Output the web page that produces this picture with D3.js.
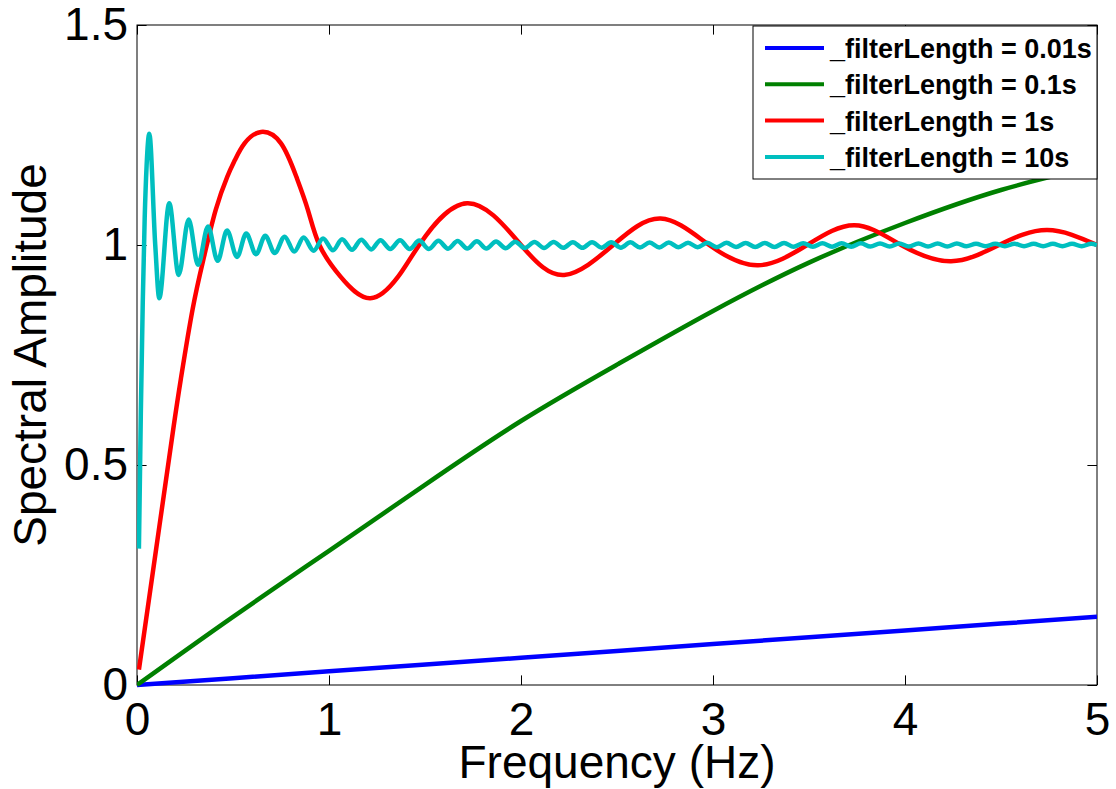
<!DOCTYPE html>
<html>
<head>
<meta charset="utf-8">
<script src="https://cdn.jsdelivr.net/npm/d3@7"></script>
<style>
  body { margin: 0; background: #fff; }
  svg { display: block; background: #fff; font-family: "Liberation Sans", Arial, Helvetica, sans-serif; }
  .axis text { font-size: 46px; fill: #000; }
  .axis line { stroke: #000; stroke-width: 1; }
  .axis-title { font-size: 46px; fill: #000; }
  .legend-text { font-size: 27px; font-weight: bold; fill: #000; }
</style>
</head>
<body>
<svg id="chart"></svg>
<script>
const chartWidth = 1116;
const chartHeight = 789;

// plot box
const plotLeft = 137;
const plotRight = 1097;
const plotTop = 25;
const plotBottom = 685;

const xTicks = [0, 1, 2, 3, 4, 5];
const yTicks = [0, 0.5, 1, 1.5];

const seriesNames = [
  "_filterLength = 0.01s",
  "_filterLength = 0.1s",
  "_filterLength = 1s",
  "_filterLength = 10s",
];
const seriesColors = ["#0000ff", "#008000", "#ff0000", "#00bfbf"];

// _filterLength = 0.01s
const blueFreq = [0, 1, 2, 3, 4, 5];
const blueAmp = [0, 0.031, 0.062, 0.093, 0.124, 0.155];

// _filterLength = 0.1s
const greenFreq = [0, 0.5, 1, 1.5, 2, 2.5, 3, 3.5, 4, 4.5, 5];
const greenAmp = [0, 0.155, 0.305, 0.455, 0.6, 0.728, 0.85, 0.96, 1.05, 1.125, 1.18];

// _filterLength = 1s
const redFreq = [
  0.01, 0.1, 0.19, 0.23, 0.29, 0.35, 0.41, 0.47, 0.51, 0.56, 0.646, 0.75,
  0.83, 0.89, 0.95, 1.06, 1.215, 1.36, 1.47, 1.72, 2.0, 2.225, 2.48, 2.727,
  2.98, 3.235, 3.49, 3.737, 3.98, 4.24, 4.49, 4.74, 5.0,
];
const redAmp = [
  0.035, 0.31, 0.585, 0.7, 0.855, 0.975, 1.08, 1.155, 1.193, 1.231, 1.257, 1.231,
  1.155, 1.08, 1.0, 0.928, 0.879, 0.928, 1.0, 1.095, 1.0, 0.932, 1.0, 1.06,
  1.0, 0.954, 1.0, 1.045, 1.0, 0.963, 1.0, 1.034, 1.0,
];

// _filterLength = 10s (peaks and troughs)
const cyanFreq = [
  0.01, 0.02, 0.03, 0.04, 0.05, 0.064, 0.095, 0.116, 0.168, 0.217, 0.269, 0.318,
  0.37, 0.42, 0.469, 0.521, 0.569, 0.62, 0.668, 0.717, 0.769, 0.819, 0.868, 0.92,
  0.969, 1.021, 1.068, 1.12, 1.168, 1.22, 1.268, 1.319, 1.37, 1.42, 1.47, 1.52,
  1.57, 1.62, 1.67, 1.72, 1.77, 1.82, 1.87, 1.92, 1.97, 2.02, 2.07, 2.12,
  2.17, 2.22, 2.27, 2.32, 2.37, 2.42, 2.47, 2.52, 2.57, 2.62, 2.67, 2.72,
  2.77, 2.82, 2.87, 2.92, 2.97, 3.02, 3.07, 3.12, 3.17, 3.22, 3.27, 3.32,
  3.37, 3.42, 3.47, 3.52, 3.57, 3.62, 3.67, 3.72, 3.77, 3.82, 3.87, 3.92,
  3.97, 4.02, 4.07, 4.12, 4.17, 4.22, 4.27, 4.32, 4.37, 4.42, 4.47, 4.52,
  4.57, 4.62, 4.67, 4.72, 4.77, 4.82, 4.87, 4.92, 4.97, 5.0,
];
const cyanAmp = [
  0.31, 0.62, 0.87, 1.06, 1.18, 1.253, 1.0, 0.879, 1.095, 0.932, 1.058, 0.955,
  1.042, 0.964, 1.033, 0.973, 1.026, 0.979, 1.021, 0.982, 1.019, 0.985, 1.017, 0.987,
  1.015, 0.988, 1.013, 0.989, 1.012, 0.99, 1.011, 0.991, 1.011, 0.991, 1.01, 0.991,
  1.0095, 0.9915, 1.009, 0.992, 1.0085, 0.992, 1.008, 0.9925, 1.0075, 0.993, 1.007, 0.993,
  1.007, 0.9935, 1.0065, 0.9935, 1.0065, 0.994, 1.006, 0.994, 1.006, 0.9945, 1.0055, 0.9945,
  1.0055, 0.995, 1.005, 0.995, 1.005, 0.995, 1.005, 0.9955, 1.0045, 0.9955, 1.0045, 0.9955,
  1.0045, 0.996, 1.004, 0.996, 1.004, 0.996, 1.004, 0.996, 1.004, 0.9965, 1.0035, 0.9965,
  1.0035, 0.9965, 1.0035, 0.9965, 1.0035, 0.9965, 1.0035, 0.997, 1.003, 0.997, 1.003, 0.997,
  1.003, 0.997, 1.003, 0.997, 1.003, 0.997, 1.003, 0.997, 1.003, 1.0,
];

// smooth curves for the slow series, shape-keeping for the wiggly one
const seriesCurves = [d3.curveNatural, d3.curveNatural, d3.curveNatural, d3.curveMonotoneX];

const series = [
  { freq: blueFreq, amp: blueAmp },
  { freq: greenFreq, amp: greenAmp },
  { freq: redFreq, amp: redAmp },
  { freq: cyanFreq, amp: cyanAmp },
].map((s, i) => ({
  name: seriesNames[i],
  color: seriesColors[i],
  curve: seriesCurves[i],
  points: s.freq.map((f, j) => [f, s.amp[j]]),
}));

const svg = d3.select("#chart").attr("width", chartWidth).attr("height", chartHeight);

const x = d3.scaleLinear().domain([0, 5]).range([plotLeft, plotRight]);
const y = d3.scaleLinear().domain([0, 1.5]).range([plotBottom, plotTop]);

const tickLen = 9.6;
const fmt = d3.format("");

// axes (ticks point inward, all four sides)
svg.append("g")
  .attr("class", "axis")
  .attr("transform", "translate(0," + plotBottom + ")")
  .call(d3.axisBottom(x).tickValues(xTicks).tickFormat(fmt).tickSizeInner(-tickLen).tickSizeOuter(0).tickPadding(17))
  .call((g) => g.select(".domain").remove());

svg.append("g")
  .attr("class", "axis")
  .attr("transform", "translate(" + plotLeft + ",0)")
  .call(d3.axisLeft(y).tickValues(yTicks).tickFormat(fmt).tickSizeInner(-tickLen).tickSizeOuter(0).tickPadding(9))
  .call((g) => g.select(".domain").remove());

svg.append("g")
  .attr("class", "axis")
  .attr("transform", "translate(0," + plotTop + ")")
  .call(d3.axisTop(x).tickValues(xTicks).tickFormat("").tickSizeInner(-tickLen).tickSizeOuter(0))
  .call((g) => g.select(".domain").remove());

svg.append("g")
  .attr("class", "axis")
  .attr("transform", "translate(" + plotRight + ",0)")
  .call(d3.axisRight(y).tickValues(yTicks).tickFormat("").tickSizeInner(-tickLen).tickSizeOuter(0))
  .call((g) => g.select(".domain").remove());

svg.selectAll(".axis text").attr("font-family", null);

// box
svg.append("rect")
  .attr("x", plotLeft)
  .attr("y", plotTop)
  .attr("width", plotRight - plotLeft)
  .attr("height", plotBottom - plotTop)
  .attr("fill", "none")
  .attr("stroke", "#000")
  .attr("stroke-width", 1);

// clip
svg.append("clipPath")
  .attr("id", "plot-clip")
  .append("rect")
  .attr("x", plotLeft)
  .attr("y", plotTop - 3)
  .attr("width", plotRight - plotLeft)
  .attr("height", plotBottom - plotTop + 6);

svg.append("g")
  .attr("clip-path", "url(#plot-clip)")
  .selectAll("path")
  .data(series)
  .enter()
  .append("path")
  .attr("fill", "none")
  .attr("stroke", (d) => d.color)
  .attr("stroke-width", 4.5)
  .attr("stroke-linejoin", "round")
  .attr("d", (d) =>
    d3.line()
      .x((p) => x(p[0]))
      .y((p) => y(p[1]))
      .curve(d.curve)(d.points)
  );

// axis titles
svg.append("text")
  .attr("class", "axis-title")
  .attr("x", (plotLeft + plotRight) / 2)
  .attr("y", 778)
  .attr("text-anchor", "middle")
  .text("Frequency (Hz)");

svg.append("text")
  .attr("class", "axis-title")
  .attr("transform", "translate(46," + (plotTop + plotBottom) / 2 + ") rotate(-90)")
  .attr("text-anchor", "middle")
  .text("Spectral Amplitude");

// legend
const legendX = 753;
const legendY = 26;
const legendW = 344;
const legendH = 153;
const legendRowY0 = 48;
const legendRowStep = 36.3;

const legend = svg.append("g").attr("id", "legend");

legend.append("rect")
  .attr("x", legendX)
  .attr("y", legendY)
  .attr("width", legendW)
  .attr("height", legendH)
  .attr("fill", "#fff")
  .attr("stroke", "#000")
  .attr("stroke-width", 1);

const legendItem = legend.selectAll(".legend-item")
  .data(series)
  .enter()
  .append("g")
  .attr("class", "legend-item")
  .attr("transform", (d, i) => "translate(0," + (legendRowY0 + i * legendRowStep) + ")");

legendItem.append("line")
  .attr("x1", 765)
  .attr("x2", 824)
  .attr("y1", 0)
  .attr("y2", 0)
  .attr("stroke", (d) => d.color)
  .attr("stroke-width", 4);

legendItem.append("text")
  .attr("class", "legend-text")
  .attr("x", 830)
  .attr("y", 10)
  .text((d) => d.name);
</script>
</body>
</html>
